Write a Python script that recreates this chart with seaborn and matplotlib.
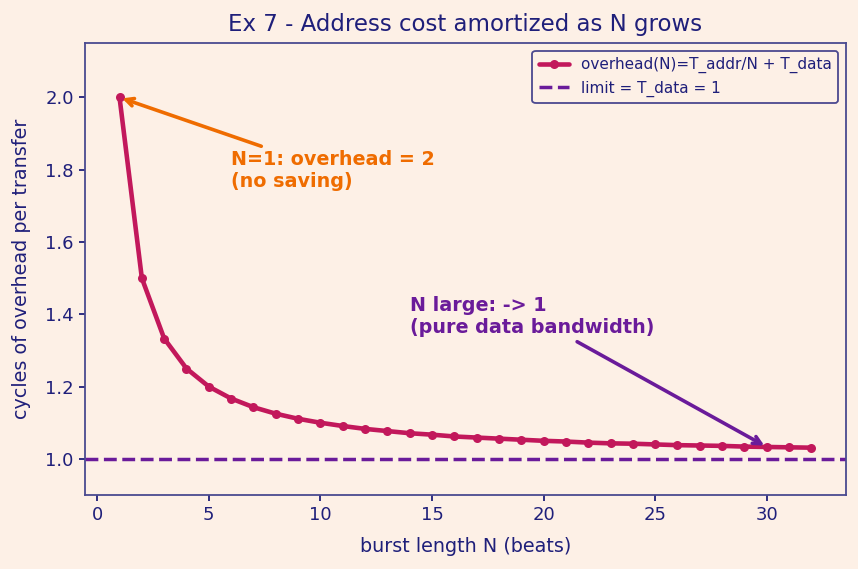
import pandas as pd
import matplotlib
matplotlib.use("Agg")
import matplotlib.pyplot as plt
import seaborn as sns

# burst length and the overhead
burst_n = list(range(1, 33))
overhead = [2.0, 1.5, 1.333, 1.25, 1.2, 1.167, 1.143, 1.125, 1.111, 1.1,
            1.091, 1.083, 1.077, 1.071, 1.067, 1.062, 1.059, 1.056, 1.053, 1.05,
            1.048, 1.045, 1.043, 1.042, 1.04, 1.038, 1.037, 1.036, 1.034, 1.033,
            1.032, 1.031]
limit_value = 1.0

bg = "#fdf0e6"
navy = "#1f1f7a"
line_col = "#c2185b"
limit_col = "#6a1b9a"
orange = "#ef6c00"

sns.set_theme(style="ticks")
plt.rcParams.update({
    "figure.facecolor": bg, "axes.facecolor": bg,
    "axes.edgecolor": "#4a4a90", "text.color": navy,
    "axes.labelcolor": navy, "xtick.color": navy, "ytick.color": navy,
    "font.size": 11,
})
plt.rcParams["font.family"] = ["DejaVu Sans"]

df = pd.DataFrame({"N": burst_n, "overhead": overhead})

fig, ax = plt.subplots(figsize=(8.58, 5.69), dpi=100)
sns.lineplot(data=df, x="N", y="overhead", ax=ax, color=line_col, linewidth=3.3,
             marker="o", markersize=6.5, markeredgewidth=0,
             label="overhead(N)=T_addr/N + T_data")
ax.axhline(limit_value, color=limit_col, linestyle="--", linewidth=2.5,
           label="limit = T_data = 1")

ax.set_xlim(-0.55, 33.55)
ax.set_ylim(0.9, 2.15)
ax.set_title("Ex 7 - Address cost amortized as N grows", fontsize=16.5, color=navy,
             pad=9)
ax.set_xlabel("burst length N (beats)", fontsize=13.8, labelpad=9)
ax.set_ylabel("cycles of overhead per transfer", fontsize=13.8, labelpad=10)
ax.tick_params(labelsize=13, length=4.5, width=1.3)
for s in ax.spines.values():
    s.set_color("#4a4a90")
    s.set_linewidth(1.3)

ax.annotate("N=1: overhead = 2\n(no saving)", xy=(1, 2.0), xytext=(6, 1.74),
            color=orange, fontsize=13.8, fontweight="bold", ha="left", va="bottom",
            arrowprops=dict(arrowstyle="->", color=orange, lw=2.6))
ax.annotate("N large: -> 1\n(pure data bandwidth)", xy=(30, 1.033), xytext=(14, 1.337),
            color=limit_col, fontsize=13.8, fontweight="bold", ha="left", va="bottom",
            arrowprops=dict(arrowstyle="->", color=limit_col, lw=2.6))

leg = ax.legend(loc="upper right", fontsize=11, frameon=True, facecolor=bg,
                edgecolor=navy)
leg.get_frame().set_linewidth(1.3)
for t in leg.get_texts():
    t.set_color(navy)

fig.subplots_adjust(left=0.099, right=0.986, top=0.924, bottom=0.13)
fig.savefig("out.png", dpi=100, facecolor=bg)
